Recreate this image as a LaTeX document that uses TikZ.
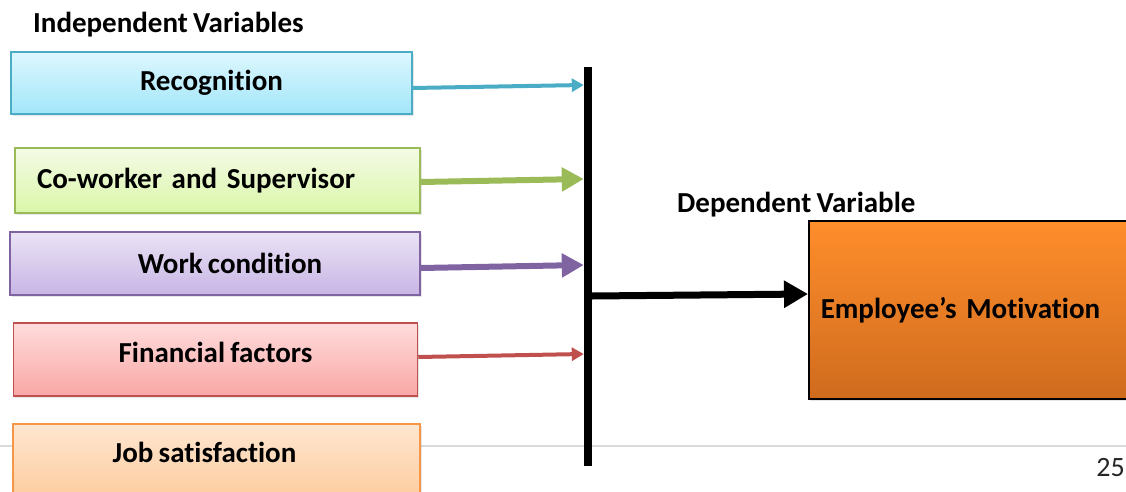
\documentclass[tikz,border=0pt]{standalone}
\usepackage{fontspec}
\setmainfont{Carlito}[Ligatures=NoCommon,WordSpace=0.8]
\usetikzlibrary{arrows.meta,shadows}

\definecolor{recline}{HTML}{4BACC6}
\definecolor{cowline}{HTML}{9BBB59}
\definecolor{workline}{HTML}{8064A2}
\definecolor{finline}{HTML}{C0504D}
\definecolor{jobline}{HTML}{F79646}
\definecolor{rectop}{HTML}{DDF7FE}
\definecolor{recbot}{HTML}{A2E6FA}
\definecolor{cowtop}{HTML}{F4FBE6}
\definecolor{cowbot}{HTML}{DAF6A8}
\definecolor{worktop}{HTML}{EAE3F5}
\definecolor{workbot}{HTML}{C8B5E5}
\definecolor{fintop}{HTML}{FEDCDC}
\definecolor{finbot}{HTML}{F9A7A5}
\definecolor{jobtop}{HTML}{FEE6D0}
\definecolor{jobbot}{HTML}{FCC48F}
\definecolor{mottop}{HTML}{FF8E2B}
\definecolor{motbot}{HTML}{CF6B1E}

\begin{document}
\begin{tikzpicture}[x=1pt,y=-1pt,
  ivbox/.style={draw,line width=1.5pt,minimum width=404pt,minimum height=63pt,inner sep=0pt,
    font=\fontsize{29}{34}\selectfont\bfseries,
    drop shadow={shadow xshift=1.5pt,shadow yshift=-2pt,opacity=0.2}},
  heading/.style={anchor=west,inner sep=0pt,font=\fontsize{29}{34}\selectfont\bfseries},
  thinarrow/.style={line width=4pt,-{Triangle[length=12pt,width=13pt]}},
  thickarrow/.style={line width=6pt,-{Triangle[length=22pt,width=23pt]}},
  mainarrow/.style={line width=7pt,black,-{Triangle[length=24pt,width=26pt]}}]

  \clip (0,0) rectangle (1126,492);
  \useasboundingbox (0,0) rectangle (1126,492);

  % Rule and page number
  \draw[black!15,line width=1.5pt] (0,446) -- (1126,446);
  \node[anchor=east,inner sep=0pt,font=\fontsize{28}{32}\selectfont,text=black!85] (page) at (1125,468) {25};

  % Headings
  \node[heading] (indep) at (33,25) {Independent Variables};
  \node[heading] (dep) at (677,205) {Dependent Variable};

  % Independent variables
  \node[ivbox,draw=recline,top color=rectop,bottom color=recbot,minimum width=401pt,minimum height=62pt] (rec) at (211.5,83) {Recognition};
  \node[ivbox,draw=cowline,top color=cowtop,bottom color=cowbot,minimum height=65pt,text width=361pt,align=left,inner xsep=22pt] (cow) at (217.5,180.5) {Co-worker and Supervisor};
  \node[ivbox,draw=workline,top color=worktop,bottom color=workbot,minimum width=410pt] (work) at (215,263.5) {\hspace{30pt}Work condition};
  \node[ivbox,draw=finline,top color=fintop,bottom color=finbot,minimum height=73pt,text depth=14pt] (fin) at (215.5,359.5) {Financial factors};
  \node[ivbox,draw=jobline,top color=jobtop,bottom color=jobbot,minimum width=407pt,minimum height=0pt,
    inner ysep=19pt,text height=20pt,text depth=40pt,anchor=north] (job) at (216.5,423) {\hspace{-24pt}Job satisfaction};

  % Dependent variable
  \node[draw=black,line width=1.5pt,top color=mottop,bottom color=motbot,
    minimum height=178pt,text width=306pt,align=left,inner xsep=12pt,anchor=west,
    font=\fontsize{29}{34}\selectfont\bfseries,
    drop shadow={shadow xshift=1.5pt,shadow yshift=-2pt,opacity=0.2}] (mot) at (808,310) {Employee’s Motivation};

  % Bar
  \node[fill=black,inner sep=0pt,minimum width=8pt,minimum height=399pt] (bar) at (588,266.5) {};

  % Arrows
  \draw[thinarrow,recline] ([yshift=-5pt]rec.east) -- ([yshift=-2pt]rec.east -| bar.west);
  \draw[thickarrow,cowline] ([yshift=-1.5pt]cow.east) -- ([yshift=1.5pt]cow.east -| bar.west);
  \draw[thickarrow,workline] ([yshift=-4.5pt]work.east) -- ([yshift=-1.5pt]work.east -| bar.west);
  \draw[thinarrow,finline] ([yshift=2.5pt]fin.east) -- ([yshift=5.5pt]fin.east -| bar.west);
  \coordinate (hit) at ([yshift=16pt]mot.west);
  \draw[mainarrow] ([yshift=-2pt]bar.east |- hit) -- (hit);

\end{tikzpicture}
\end{document}
